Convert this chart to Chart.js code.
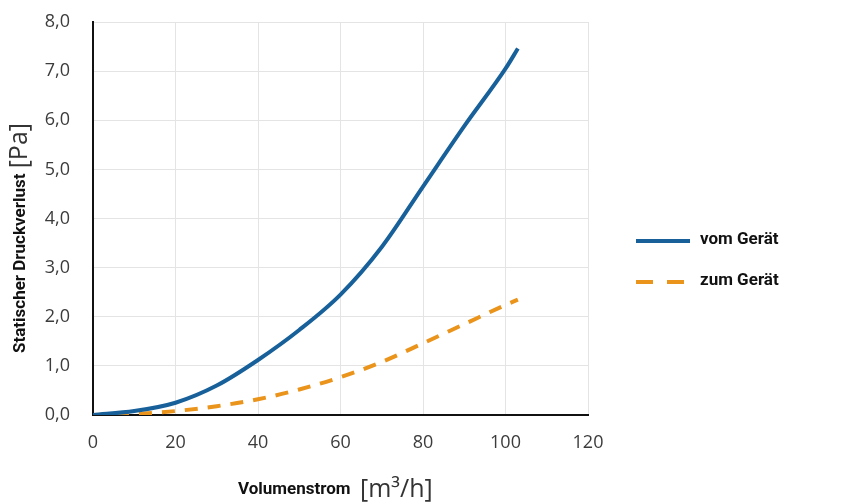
<!DOCTYPE html>
<html>
<head>
<meta charset="utf-8">
<script src="https://cdn.jsdelivr.net/npm/chart.js@4"></script>
<style>
  html, body { margin: 0; padding: 0; background: #fff; }
  #wrap { width: 842px; height: 502px; }
</style>
</head>
<body>
<div id="wrap"><canvas id="druckChart" width="842" height="502"></canvas></div>
<script>
// Volumenstrom in m3/h
const flowVom = [0, 10, 20, 30, 40, 50, 60, 70, 80, 90, 100, 103];
const pressureVom = [0, 0.08, 0.25, 0.6, 1.12, 1.73, 2.45, 3.42, 4.65, 5.88, 7.05, 7.46];

const flowZum = [0, 10, 20, 30, 40, 50, 60, 70, 80, 90, 100, 103];
const pressureZum = [0, 0.02, 0.08, 0.18, 0.32, 0.52, 0.77, 1.08, 1.46, 1.85, 2.24, 2.35];

const seriesLabels = ['vom Gerät', 'zum Gerät'];
const xTicks = [0, 20, 40, 60, 80, 100, 120];
const yTicks = [0, 1, 2, 3, 4, 5, 6, 7, 8];

const blue = '#17609a';
const orange = '#ea941c';

const toPoints = (xs, ys) => xs.map((x, i) => ({ x: x, y: ys[i] }));

// axis titles with mixed fonts + the legend on the right
const extrasPlugin = {
  id: 'extras',
  afterDraw(chart) {
    const ctx = chart.ctx;
    ctx.save();

    // y title (rotated)
    ctx.translate(25, 353);
    ctx.rotate(-Math.PI / 2);
    ctx.textBaseline = 'alphabetic';
    ctx.textAlign = 'left';
    ctx.fillStyle = '#111';
    ctx.font = 'bold 17px Roboto';
    const part1 = 'Statischer Druckverlust ';
    ctx.fillText(part1, 0, 0);
    const w1 = ctx.measureText(part1).width;
    ctx.fillStyle = '#333';
    ctx.font = '25px "Open Sans"';
    ctx.fillText('[Pa]', w1 + 1, 2);
    ctx.restore();

    // x title
    ctx.save();
    ctx.textBaseline = 'alphabetic';
    ctx.fillStyle = '#111';
    ctx.font = 'bold 17px Roboto';
    ctx.fillText('Volumenstrom', 238, 494);
    ctx.fillStyle = '#333';
    ctx.font = '25px "Open Sans"';
    ctx.fillText('[m³/h]', 360, 497);
    ctx.restore();

    // legend
    ctx.save();
    const rows = [241, 282];
    chart.data.datasets.forEach((ds, i) => {
      const y = rows[i];
      ctx.strokeStyle = ds.borderColor;
      ctx.lineWidth = 4;
      ctx.setLineDash(i === 1 ? [17, 14] : []);
      ctx.beginPath();
      ctx.moveTo(636, y);
      ctx.lineTo(690, y);
      ctx.stroke();
      ctx.setLineDash([]);
      ctx.fillStyle = '#111';
      ctx.font = 'bold 17px Roboto';
      ctx.textBaseline = 'middle';
      ctx.fillText(ds.label, 700, y - 1);
    });
    ctx.restore();
  }
};

new Chart(document.getElementById('druckChart'), {
  type: 'line',
  data: {
    datasets: [
      {
        label: seriesLabels[0],
        data: toPoints(flowVom, pressureVom),
        borderColor: blue,
        backgroundColor: blue,
        borderWidth: 4,
        pointRadius: 0,
        cubicInterpolationMode: 'monotone',
        fill: false
      },
      {
        label: seriesLabels[1],
        data: toPoints(flowZum, pressureZum),
        borderColor: orange,
        backgroundColor: orange,
        borderWidth: 4,
        borderDash: [13, 10],
        pointRadius: 0,
        cubicInterpolationMode: 'monotone',
        fill: false
      }
    ]
  },
  options: {
    responsive: false,
    animation: false,
    layout: { autoPadding: false, padding: { left: 0, right: 254, top: 22, bottom: 0 } },
    plugins: {
      legend: { display: false },
      tooltip: { enabled: false }
    },
    scales: {
      x: {
        type: 'linear',
        min: 0,
        max: 120,
        afterBuildTicks: (s) => { s.ticks = xTicks.map(v => ({ value: v })); },
        afterFit: (s) => { s.height = 87; s.paddingLeft = 0; s.paddingRight = 0; },
        grid: { color: '#e4e4e4', drawTicks: false, lineWidth: 1 },
        border: { color: '#111', width: 2 },
        ticks: {
          padding: 17,
          color: '#3c3c3c',
          font: { family: 'Open Sans', size: 18 }
        }
      },
      y: {
        min: 0,
        max: 8,
        afterBuildTicks: (s) => { s.ticks = yTicks.map(v => ({ value: v })); },
        afterFit: (s) => { s.width = 93; s.paddingTop = 0; s.paddingBottom = 0; },
        grid: { color: '#e4e4e4', drawTicks: false, lineWidth: 1 },
        border: { color: '#111', width: 2 },
        ticks: {
          padding: 23,
          color: '#3c3c3c',
          font: { family: 'Open Sans', size: 18 },
          callback: (v) => v.toFixed(1).replace('.', ',')
        }
      }
    }
  },
  plugins: [extrasPlugin]
});
</script>
</body>
</html>
